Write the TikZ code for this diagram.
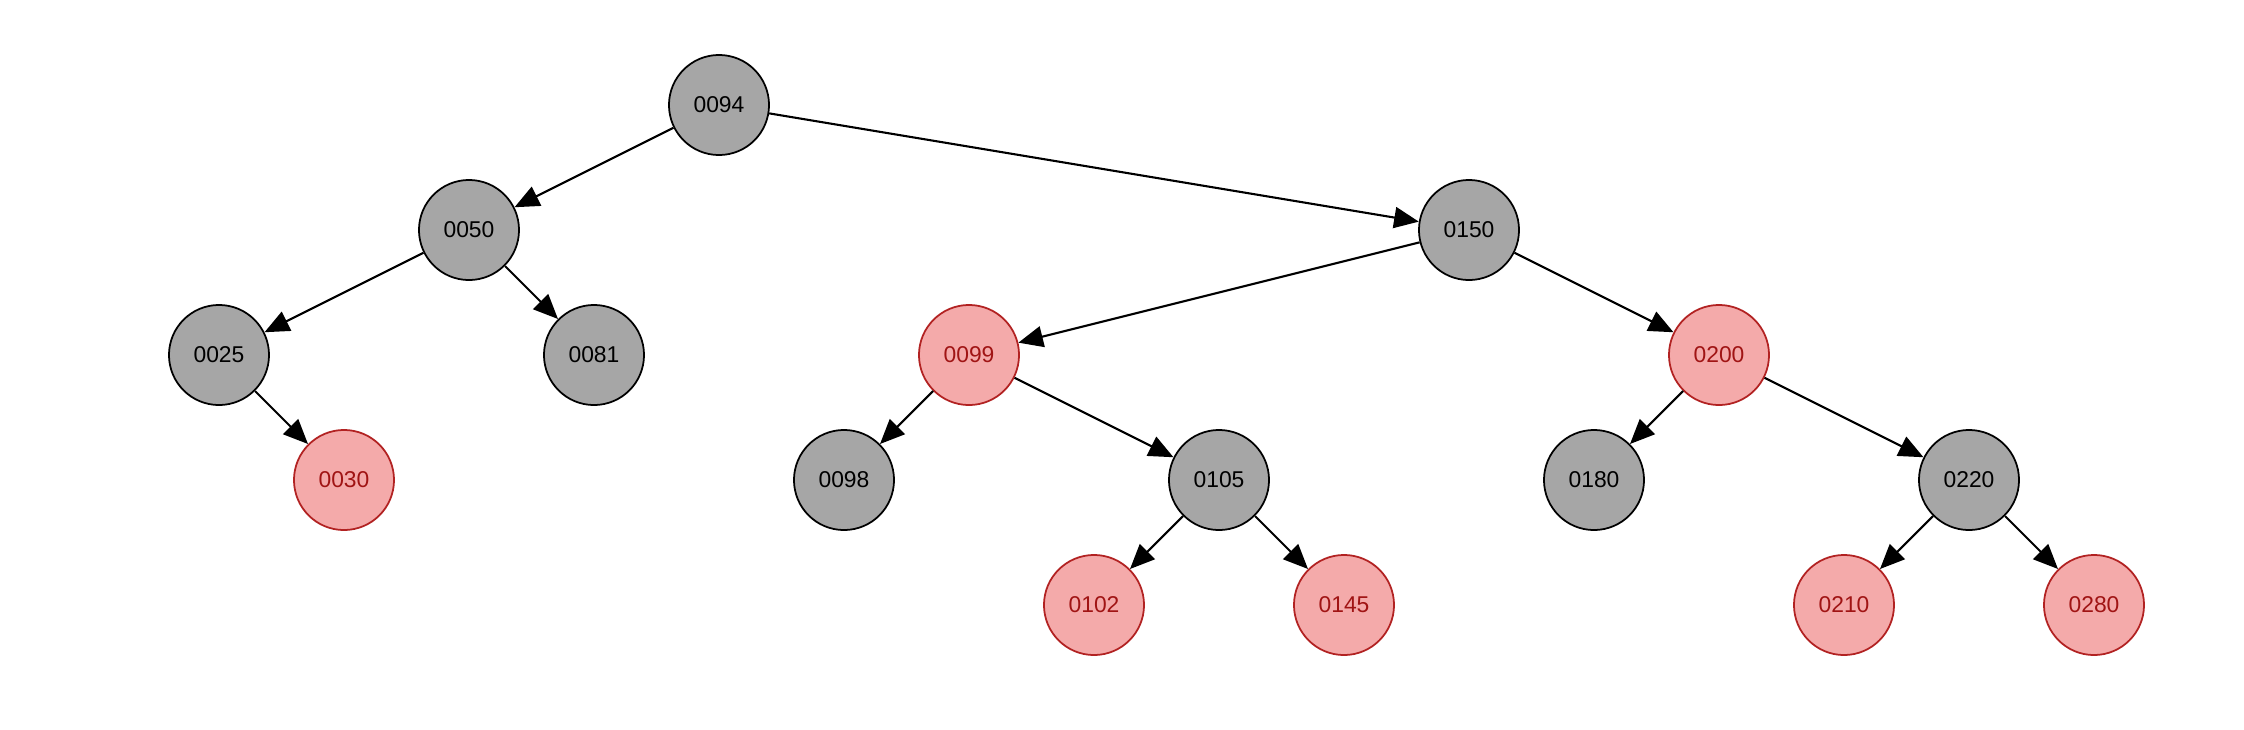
\documentclass[tikz,border=0pt]{standalone}
\usepackage{fontspec}
\setmainfont{Liberation Sans}
\usetikzlibrary{arrows.meta}
\definecolor{nodegray}{HTML}{A6A6A6}
\definecolor{nodepink}{HTML}{F4AAAA}
\definecolor{redline}{HTML}{B22222}
\definecolor{redtext}{HTML}{A01414}
\begin{document}
\begin{tikzpicture}[x=0.01cm,y=-0.01cm,
  blacknode/.style={circle,draw=black,fill=nodegray,line width=0.5pt,minimum size=1cm,inner sep=0pt,font=\fontsize{6.5}{7}\selectfont,text=black},
  rednode/.style={circle,draw=redline,fill=nodepink,line width=0.5pt,minimum size=1cm,inner sep=0pt,font=\fontsize{6.5}{7}\selectfont,text=redtext},
  edge/.style={draw=black,line width=0.6pt,-{Triangle[length=7pt,width=6pt]}}]
\useasboundingbox (0,0) rectangle (2244,730);
\def\lx#1{219+125*#1}
\node[blacknode] (n0094) at ({\lx{4}},105) {0094};
\node[blacknode] (n0050) at ({\lx{2}},230) {0050};
\node[blacknode] (n0150) at ({\lx{10}},230) {0150};
\node[blacknode] (n0025) at ({\lx{0}},355) {0025};
\node[blacknode] (n0081) at ({\lx{3}},355) {0081};
\node[rednode] (n0099) at ({\lx{6}},355) {0099};
\node[rednode] (n0200) at ({\lx{12}},355) {0200};
\node[rednode] (n0030) at ({\lx{1}},480) {0030};
\node[blacknode] (n0098) at ({\lx{5}},480) {0098};
\node[blacknode] (n0105) at ({\lx{8}},480) {0105};
\node[blacknode] (n0180) at ({\lx{11}},480) {0180};
\node[blacknode] (n0220) at ({\lx{14}},480) {0220};
\node[rednode] (n0102) at ({\lx{7}},605) {0102};
\node[rednode] (n0145) at ({\lx{9}},605) {0145};
\node[rednode] (n0210) at ({\lx{13}},605) {0210};
\node[rednode] (n0280) at ({\lx{15}},605) {0280};
\draw[edge] (n0094) -- (n0050);
\draw[edge] (n0094) -- (n0150);
\draw[edge] (n0050) -- (n0025);
\draw[edge] (n0050) -- (n0081);
\draw[edge] (n0025) -- (n0030);
\draw[edge] (n0150) -- (n0099);
\draw[edge] (n0150) -- (n0200);
\draw[edge] (n0099) -- (n0098);
\draw[edge] (n0099) -- (n0105);
\draw[edge] (n0105) -- (n0102);
\draw[edge] (n0105) -- (n0145);
\draw[edge] (n0200) -- (n0180);
\draw[edge] (n0200) -- (n0220);
\draw[edge] (n0220) -- (n0210);
\draw[edge] (n0220) -- (n0280);
\end{tikzpicture}
\end{document}
